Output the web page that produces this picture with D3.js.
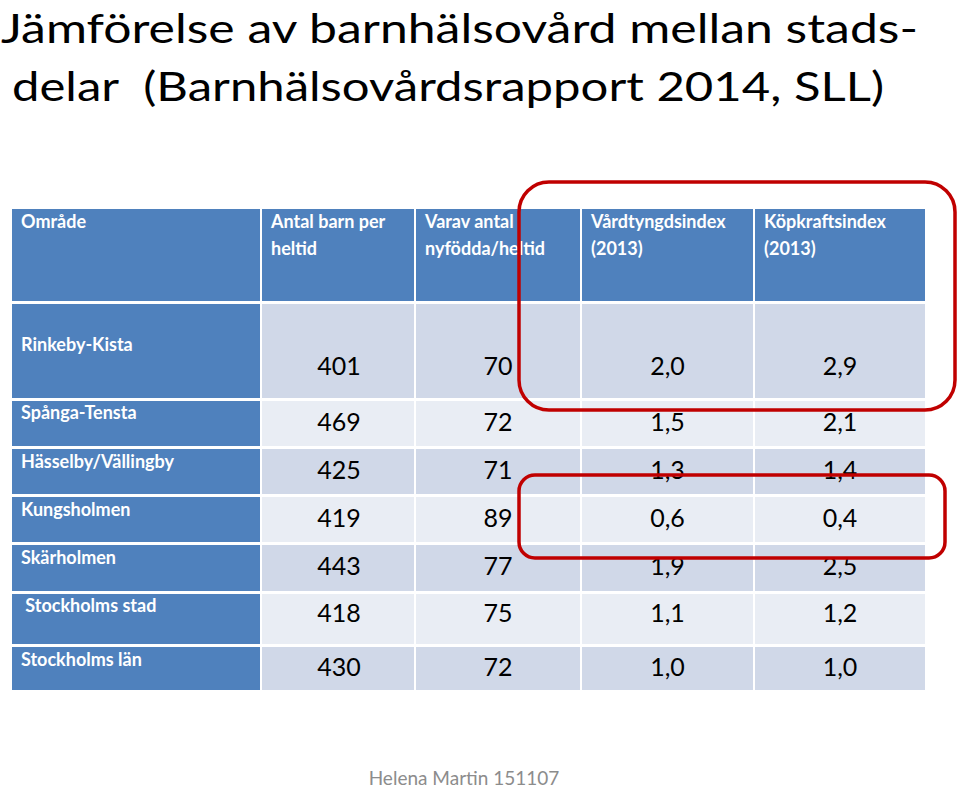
<!DOCTYPE html>
<html>
<head>
<meta charset="utf-8">
<script src="https://cdn.jsdelivr.net/npm/d3@7.9.0/dist/d3.min.js"></script>
<style>
  body { margin: 0; background: #fff; }
  svg { display: block; }
</style>
</head>
<body>
<svg width="960" height="791"></svg>
<script>
// data
const titleLines = ['Jämförelse av barnhälsovård mellan stads-', 'delar  (Barnhälsovårdsrapport 2014, SLL)'];
const headers = [
  ['Område'],
  ['Antal barn per', 'heltid'],
  ['Varav antal', 'nyfödda/heltid'],
  ['Vårdtyngdsindex', '(2013)'],
  ['Köpkraftsindex', '(2013)']
];
const areas = ['Rinkeby-Kista', 'Spånga-Tensta', 'Hässelby/Vällingby', 'Kungsholmen', 'Skärholmen', ' Stockholms stad', 'Stockholms län'];
const barnPerHeltid = [401, 469, 425, 419, 443, 418, 430];
const nyfoddaPerHeltid = [70, 72, 71, 89, 77, 75, 72];
const vardtyngdsindex = [2.0, 1.5, 1.3, 0.6, 1.9, 1.1, 1.0];
const kopkraftsindex = [2.9, 2.1, 1.4, 0.4, 2.5, 1.2, 1.0];
const footer = 'Helena Martin 151107';

// layout
const colEdges = [12, 262, 416, 582, 755, 925];
const rowEdges = [209, 304, 401, 449, 497, 545, 594, 647, 693];
const gap = 3;
const font = 'Lato, "Open Sans", sans-serif';

const svg = d3.select('svg');
const fmt1 = v => d3.format('.1f')(v).replace('.', ',');

const rows = areas.map((a, i) => [a, barnPerHeltid[i], nyfoddaPerHeltid[i], fmt1(vardtyngdsindex[i]), fmt1(kopkraftsindex[i])]);

// title
svg.selectAll('text.title').data(titleLines).join('text')
  .attr('class', 'title')
  .attr('x', (d, i) => i === 0 ? 1 : 12)
  .attr('y', (d, i) => 43 + i * 58)
  .attr('font-family', font)
  .attr('font-size', 41)
  .attr('textLength', (d, i) => i === 0 ? 917 : 872)
  .attr('lengthAdjust', 'spacingAndGlyphs')
  .attr('fill', '#000')
  .style('white-space', 'pre')
  .text(d => d);

const cx = j => colEdges[j];
const cw = j => colEdges[j + 1] - colEdges[j] - (j < 4 ? 2 : 0);

// header cells
const head = svg.append('g');
headers.forEach((h, j) => {
  head.append('rect')
    .attr('x', cx(j)).attr('y', rowEdges[0])
    .attr('width', cw(j)).attr('height', rowEdges[1] - rowEdges[0] - gap)
    .attr('fill', '#4F81BD');
  head.append('text')
    .attr('x', cx(j) + 9)
    .attr('y', rowEdges[0] + 19)
    .attr('font-family', font)
    .attr('font-weight', 'bold')
    .attr('font-size', 18)
    .attr('fill', '#fff')
    .selectAll('tspan').data(h).join('tspan')
      .attr('x', cx(j) + 9)
      .attr('dy', (d, k) => k === 0 ? 0 : 27)
      .text(d => d);
});

// body
const labelY = [351, 419, 468, 516, 564, 612, 666];
const numY = [375, 431, 479, 527, 575, 622, 676];
rows.forEach((r, i) => {
  const y0 = rowEdges[i + 1], y1 = rowEdges[i + 2] - gap;
  const g = svg.append('g');
  r.forEach((v, j) => {
    g.append('rect')
      .attr('x', cx(j)).attr('y', y0)
      .attr('width', cw(j)).attr('height', y1 - y0)
      .attr('fill', j === 0 ? '#4F81BD' : (i % 2 === 0 ? '#D0D8E8' : '#E9EDF4'));
    if (j === 0) {
      g.append('text')
        .attr('x', cx(0) + 9).attr('y', labelY[i])
        .attr('font-family', font).attr('font-weight', 'bold').attr('font-size', 18)
        .attr('fill', '#fff')
        .style('white-space', 'pre')
        .text(v);
    } else {
      g.append('text')
        .attr('x', cx(j) + cw(j) / 2 + (j === 1 ? 1 : 0)).attr('y', numY[i])
        .attr('text-anchor', 'middle')
        .attr('font-family', font).attr('font-size', 25)
        .attr('fill', '#000')
        .text(v);
    }
  });
});

// red highlight boxes
const boxes = [
  { x: 519, y: 182, w: 436, h: 228, r: 30 },
  { x: 519, y: 475, w: 426, h: 83, r: 16 }
];
svg.selectAll('rect.hl').data(boxes).join('rect')
  .attr('class', 'hl')
  .attr('x', d => d.x).attr('y', d => d.y)
  .attr('width', d => d.w).attr('height', d => d.h)
  .attr('rx', d => d.r)
  .attr('fill', 'none')
  .attr('stroke', '#C00000')
  .attr('stroke-width', 3.5);

svg.append('text')
  .attr('x', 464).attr('y', 785)
  .attr('text-anchor', 'middle')
  .attr('font-family', font).attr('font-size', 19)
  .attr('fill', '#8C8C8C')
  .text(footer);
</script>
</body>
</html>
